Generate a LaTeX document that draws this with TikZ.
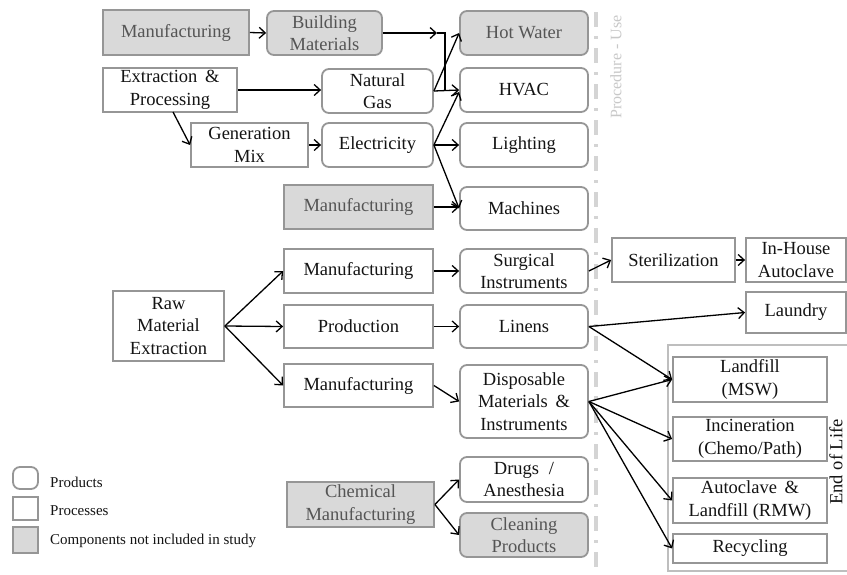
\documentclass[tikz,border=0pt]{standalone}
\usepackage{fontspec}
\setmainfont{Liberation Serif}
\usetikzlibrary{arrows.meta,calc}
\definecolor{boxc}{RGB}{150,150,150}
\definecolor{fillc}{RGB}{217,217,217}
\definecolor{extxt}{RGB}{85,85,85}
\definecolor{sepc}{RGB}{212,212,212}
\definecolor{txt}{RGB}{20,20,20}
\definecolor{eolc}{RGB}{190,190,190}
\definecolor{proct}{RGB}{200,200,200}
\newcommand\dgbox[7]{\node[#2,minimum width=#5pt-#3pt,minimum height=#6pt-#4pt] (#1) at ({(#3+#5)/2},{(#4+#6)/2}) {#7};}
\tikzset{
 base/.style={draw=boxc, line width=1.8pt, inner sep=0pt, align=center, font=\fontsize{18.5}{22.5}\selectfont, text=txt},
 proc/.style={base, rectangle},
 prod/.style={base, rounded corners=7pt},
 exproc/.style={proc, fill=fillc, text=extxt},
 exprod/.style={prod, fill=fillc, text=extxt},
 arr/.style={line width=1.3pt, -{Straight Barb[length=6pt,width=11pt]}},
 plain/.style={line width=1.3pt},
 legtxt/.style={anchor=west, inner sep=0pt, font=\fontsize{15}{17}\selectfont, text=txt},
}
\begin{document}
\begin{tikzpicture}[x=1pt,y=-1pt]
\clip (0,0) rectangle (847,574);
\fill[white] (0,0) rectangle (847,574);
% separator
\draw[sepc, line width=4pt, dash pattern=on 15pt off 9pt on 3pt off 9pt] (596,12) -- (596,580);
\node[rotate=90, text=proct, font=\fontsize{16}{18}\selectfont, inner sep=0pt] (proc) at (616,67) {Procedure - Use};
% end of life frame (open on the right, beyond the picture edge)
\coordinate (eolTR) at (900,345);
\coordinate (eolTL) at (668,345);
\coordinate (eolBL) at (668,571);
\coordinate (eolBR) at (900,571);
\draw[eolc, line width=1.5pt] (eolTR) -- (eolTL) -- (eolBL) -- (eolBR);
\node[rotate=90, font=\fontsize{18.5}{20}\selectfont, text=txt, inner sep=0pt] (eoltxt) at (836,462) {End of Life};
% top section
\dgbox{m1}{exproc}{103}{10}{249}{55}{Manufacturing}
\dgbox{bm}{exprod}{267}{11}{382}{55}{Building\\Materials}
\dgbox{hw}{exprod}{460}{11}{588}{55}{Hot Water}
\dgbox{ep}{proc}{103}{68}{237}{112}{Extraction \,\&\\Processing}
\dgbox{ng}{prod}{322}{69}{433}{113}{Natural\\Gas}
\dgbox{hvac}{prod}{460}{68}{588}{112}{HVAC}
\dgbox{gm}{proc}{191}{123}{308}{167}{Generation\\Mix}
\dgbox{el}{prod}{322}{123}{433}{167}{Electricity}
\dgbox{li}{prod}{460}{123}{588}{167}{Lighting}
\dgbox{m2}{exproc}{284}{185}{433}{229}{Manufacturing}
\dgbox{ma}{prod}{460}{187}{588}{230}{Machines}
% middle section
\dgbox{rm}{proc}{113}{291}{224}{361}{Raw\\Material\\Extraction}
\dgbox{m3}{proc}{284}{249}{433}{293}{Manufacturing}
\dgbox{pr}{proc}{284}{305}{433}{348}{Production}
\dgbox{m4}{proc}{284}{364}{433}{407}{Manufacturing}
\dgbox{si}{prod}{460}{249}{588}{293}{Surgical\\Instruments}
\dgbox{lnn}{prod}{460}{305}{588}{348}{Linens}
\dgbox{dm}{prod}{460}{365}{588}{438}{Disposable\\Materials \,\&\\Instruments}
\dgbox{st}{proc}{612}{238}{735}{282}{Sterilization}
\dgbox{ih}{proc}{746}{238}{846}{282}{In-House\\Autoclave}
\dgbox{la}{proc}{746}{292}{846}{333}{Laundry}
\dgbox{lf}{proc}{673}{357}{827}{402}{Landfill\\(MSW)}
\dgbox{inc}{proc}{673}{417}{827}{461}{Incineration\\(Chemo/Path)}
\dgbox{ac}{proc}{673}{478}{827}{523}{Autoclave \,\&\\Landfill (RMW)}
\dgbox{rc}{proc}{673}{534}{827}{563}{Recycling}
% bottom section
\dgbox{cm}{exproc}{287}{482}{434}{527}{Chemical\\Manufacturing}
\dgbox{dr}{prod}{460}{457}{588}{502}{Drugs \;/\\Anesthesia}
\dgbox{cp}{exprod}{460}{513}{588}{557}{Cleaning\\Products}
% legend
\dgbox{lg1}{prod}{13}{467}{38}{489}{}
\dgbox{lg2}{proc}{13}{497}{38}{520}{}
\dgbox{lg3}{exproc}{13}{527}{38}{553}{}
\node[legtxt] (lt1) at (50,482) {Products};
\node[legtxt] (lt2) at (50,511) {Processes};
\node[legtxt] (lt3) at (50,541) {Components not included in study};
% connectors top
\coordinate (bmA) at (437,33);
\coordinate (bmB) at (445,33);
\coordinate (bmC) at (445,90);
\coordinate (epS) at (173,112);
\draw[arr] (m1.east) -- (bm.west);
\draw[arr] (bm.east) -- (bmA);
\draw[plain] (bmA) -- (bmB) -- (bmC);
\draw[arr] (ep.east) -- (ep.east -| ng.west);
\draw[arr] (epS) -- (gm.west);
\draw[arr] (gm.east) -- (el.west);
\draw[arr] (ng.east) -- (hw.west);
\draw[arr] (ng.east) -- (hvac.west);
\draw[arr] (el.east) -- ($(hvac.west)+(0,2)$);
\draw[arr] (el.east) -- (li.west);
\draw[arr] (el.east) -- (ma.west);
\draw[arr] (m2.east) -- (m2.east -| ma.west);
% connectors middle
\draw[arr] (rm.east) -- (m3.west);
\draw[arr] (rm.east) -- (pr.west);
\draw[arr] (rm.east) -- (m4.west);
\draw[arr] (m3.east) -- (si.west);
\draw[arr] (pr.east) -- (lnn.west);
\draw[arr] (m4.east) -- (dm.west);
\draw[arr] (si.east) -- (st.west);
\draw[arr] (st.east) -- (ih.west);
\draw[arr] (lnn.east) -- (la.west);
\draw[arr] (lnn.east) -- (lf.west);
\draw[arr] (dm.east) -- (lf.west);
\draw[arr] (dm.east) -- (inc.west);
\draw[arr] (dm.east) -- (ac.west);
\draw[arr] (dm.east) -- (rc.west);
% connectors bottom
\draw[arr] (cm.east) -- (dr.west);
\draw[arr] (cm.east) -- (cp.west);
\end{tikzpicture}
\end{document}
